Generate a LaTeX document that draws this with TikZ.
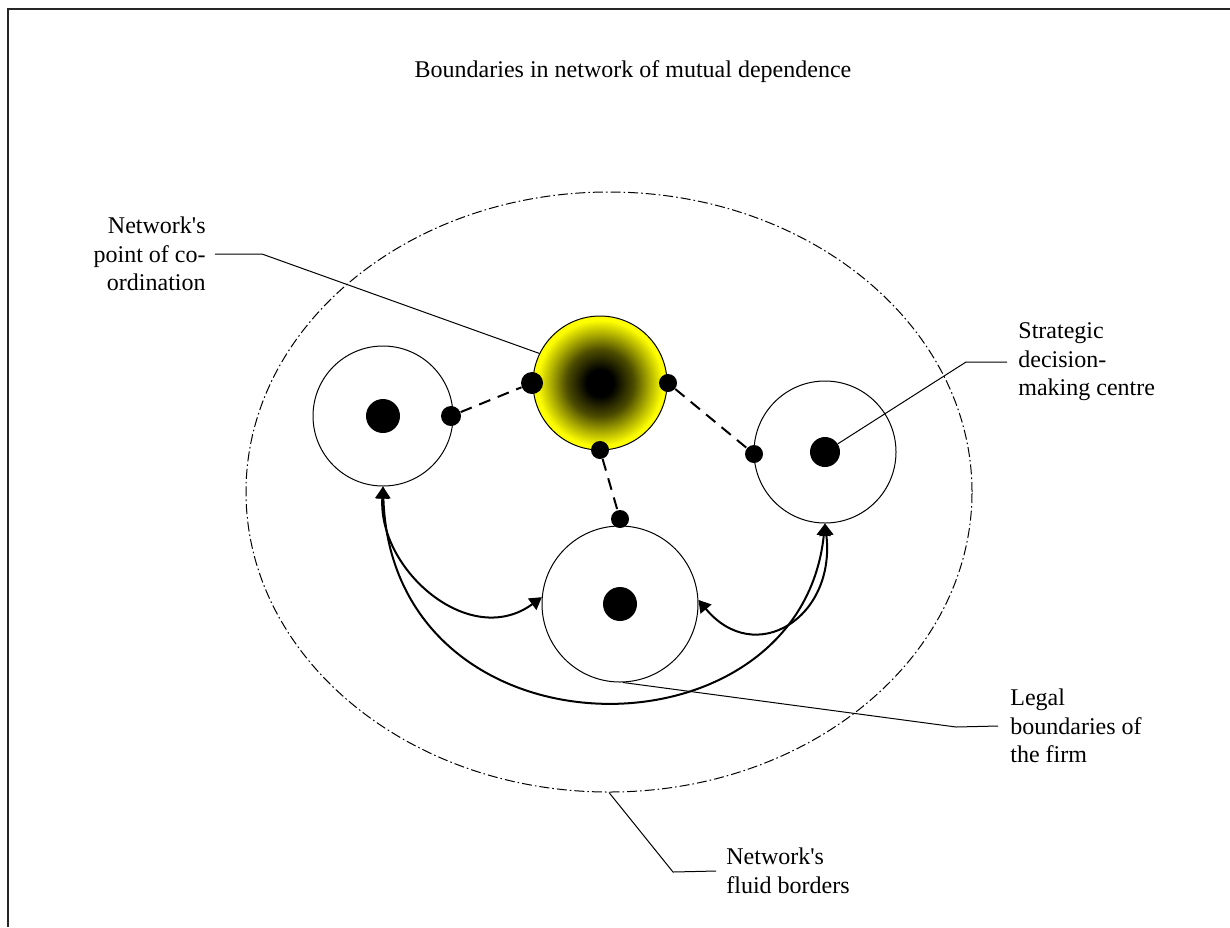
\documentclass[tikz,border=0pt]{standalone}
\usepackage{fontspec}
\setmainfont{Liberation Serif}
\usepackage{tikz}
\usetikzlibrary{arrows.meta,shapes.geometric}
\pgfdeclareradialshading{hubglow}{\pgfpoint{0bp}{0bp}}{color(0bp)=(black); color(5bp)=(black); color(12.5bp)=(yellow!30!black); color(19bp)=(yellow!72!black); color(23.5bp)=(yellow); color(50bp)=(yellow)}

\begin{document}
\begin{tikzpicture}[x=0.5pt,y=-0.5pt,>={Triangle[length=6pt,width=7pt]},
  firm/.style={circle,draw,line width=0.5pt,minimum size=#1,inner sep=0pt},
  blob/.style={circle,fill=black,minimum size=#1,inner sep=0pt},
  link/.style={line width=1pt,dash pattern=on 6pt off 4pt},
  tie/.style={<->,line width=1pt},
  leader/.style={line width=0.5pt},
  lbl/.style={font=\fontsize{12}{14.3}\selectfont,inner sep=0pt}]
  \useasboundingbox (0,0) rectangle (1230,927);
  % Frame
  \draw[line width=1pt,black!85] (1230,9) -- (8,9) -- (8,927);
  % Title
  \node[lbl] (title) at (633,72) {Boundaries in network of mutual dependence};
  % Network's border
  \node[ellipse,draw,line width=0.5pt,dash pattern=on 5pt off 1.5pt on 0.8pt off 1.5pt,
    minimum width=363pt,minimum height=300pt,inner sep=0pt] (border) at (609,492) {};
  % Firms and the hub
  \node[firm=70pt] (firmL) at (383,416) {};
  \node[firm=71pt] (firmR) at (825,452) {};
  \node[firm=78pt] (firmB) at (620,604) {};
  \node[firm=67pt,shading=hubglow] (hub) at (600,383) {};
  % Decision-making centres
  \node[blob=17pt] (dotL) at (383,416) {};
  \node[blob=15pt] (dotR) at (825,452) {};
  \node[blob=17pt] (dotB) at (620,604) {};
  % Contact points
  \node[blob=10pt] (cL) at (451,416) {};
  \node[blob=11pt] (cHL) at (532,383) {};
  \node[blob=9pt] (cHR) at (668,383) {};
  \node[blob=9pt] (cR) at (754,454) {};
  \node[blob=9pt] (cHB) at (600,450) {};
  \node[blob=9pt] (cB) at (620,519) {};
  % Dashed ties to the hub
  \draw[link] (cL) -- (cHL);
  \draw[link] (cHR) -- (cR);
  \draw[link] (cHB) -- (cB);
  % Mutual dependence
  \draw[tie] (firmL.south) .. controls (378,570) and (470,650) .. (firmB.175);
  \draw[tie] (firmL.south) .. controls (392,766) and (800,766) .. (firmR.south);
  \draw[tie] (firmR.south) .. controls (836,618) and (755,668) .. (firmB.3);
  % Labels
  \node[lbl,align=right,anchor=east] (coordLbl) at (206,254) {Network\textquotesingle s\\point of co-\\ordination};
  \node[lbl,align=left,anchor=west] (stratLbl) at (1018,362) {Strategic\\decision-\\making centre};
  \node[lbl,align=left,anchor=west] (legalLbl) at (1010,726) {Legal\\boundaries of\\the firm};
  \node[lbl,align=left,anchor=west] (fluidLbl) at (726,871) {Network\textquotesingle s\\fluid borders};
  \coordinate (coordBend) at (262,254);
  \coordinate (stratBend) at (966,362);
  \coordinate (legalBend) at (956,727);
  \coordinate (fluidBend) at (673,872);
  \draw[leader] ([xshift=4.5pt]coordLbl.east) -- (coordBend) -- (hub.154);
  \draw[leader] (dotR) -- (stratBend) -- ([xshift=-5.5pt]stratLbl.west);
  \draw[leader] (firmB.-88) -- (legalBend) -- ([xshift=-6pt]legalLbl.west);
  \draw[leader] (border.south) -- (fluidBend) -- ([xshift=-5pt]fluidLbl.west);
\end{tikzpicture}
\end{document}
